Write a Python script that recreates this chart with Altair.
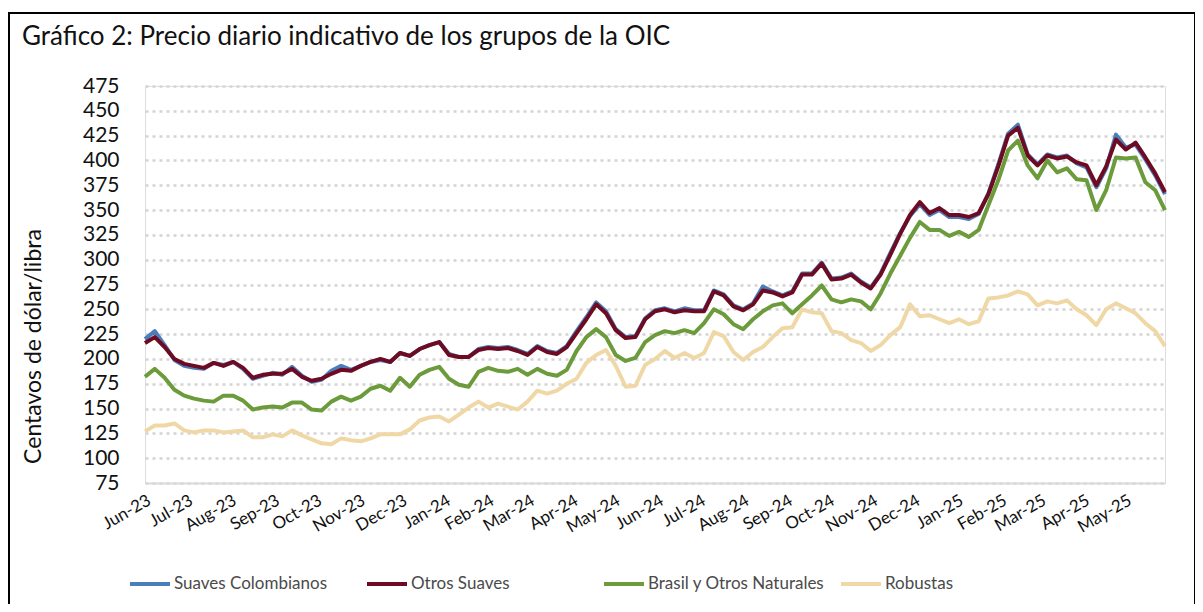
import altair as alt
import pandas as pd

# Fechas semanales (eje x) y valores (centavos de dólar/libra)
fechas = pd.date_range("2023-06-01", periods=105, freq="7D")

suaves_colombianos = [
    220, 228, 214, 199, 193, 191, 190, 196, 194, 197,
    190, 180, 183, 186, 184, 192, 183, 177, 179, 188,
    193, 189, 193, 197, 199, 197, 206, 203, 210, 214,
    217, 205, 202, 202, 210, 212, 211, 212, 209, 205,
    213, 208, 206, 213, 228, 242, 257, 248, 230, 222,
    223, 241, 249, 251, 248, 251, 249, 249, 269, 265,
    254, 250, 256, 273, 268, 264, 268, 286, 286, 297,
    281, 282, 286, 278, 272, 286, 307, 327, 344, 356,
    345, 350, 343, 343, 341, 346, 367, 396, 427, 436,
    406, 396, 406, 403, 405, 397, 393, 373, 392, 426,
    413, 416, 401, 385, 366,
]
otros_suaves = [
    216, 222, 212, 200, 195, 193, 191, 196, 193, 197,
    191, 181, 184, 185, 185, 190, 182, 178, 180, 185,
    189, 188, 193, 197, 200, 197, 206, 203, 210, 214,
    217, 204, 202, 202, 209, 211, 210, 211, 208, 204,
    212, 207, 205, 212, 226, 240, 255, 246, 229, 221,
    222, 240, 248, 250, 247, 249, 248, 248, 268, 264,
    253, 249, 255, 269, 267, 263, 267, 285, 285, 296,
    280, 281, 285, 277, 271, 285, 305, 326, 345, 358,
    347, 352, 345, 345, 343, 347, 366, 394, 425, 433,
    405, 395, 405, 402, 404, 398, 395, 375, 394, 421,
    411, 418, 403, 387, 368,
]
brasil_naturales = [
    182, 190, 181, 169, 163, 160, 158, 157, 163, 163,
    158, 149, 151, 152, 151, 156, 156, 149, 148, 157,
    162, 158, 162, 170, 173, 168, 181, 172, 184, 189,
    192, 180, 174, 172, 187, 191, 188, 187, 190, 184,
    190, 185, 183, 189, 208, 222, 230, 222, 204, 198,
    201, 217, 224, 228, 226, 229, 226, 236, 250, 245,
    235, 230, 240, 248, 254, 256, 246, 255, 264, 274,
    260, 257, 260, 258, 250, 266, 286, 304, 322, 338,
    330, 330, 324, 328, 323, 330, 355, 380, 410, 420,
    395, 382, 400, 388, 392, 381, 380, 350, 370, 403,
    402, 403, 378, 370, 350,
]
robustas = [
    127, 133, 133, 135, 128, 126, 128, 128, 126, 127,
    128, 121, 121, 124, 122, 128, 123, 119, 115, 114,
    120, 118, 117, 120, 124, 124, 124, 129, 138, 141,
    142, 137, 144, 151, 157, 151, 155, 152, 149, 157,
    168, 165, 168, 175, 180, 196, 204, 209, 193, 172,
    173, 194, 200, 208, 201, 206, 201, 206, 227, 223,
    207, 199, 207, 212, 222, 231, 232, 250, 247, 246,
    228, 226, 219, 216, 208, 214, 224, 232, 255, 243,
    244, 240, 236, 240, 235, 238, 261, 262, 264, 268,
    265, 254, 258, 256, 259, 250, 244, 234, 250, 256,
    251, 246, 236, 228, 213,
]

series = ["Suaves Colombianos", "Otros Suaves", "Brasil y Otros Naturales", "Robustas"]
colores = ["#4a7ebb", "#6e0b22", "#6b9b3a", "#efd8a6"]
titulo = "Gráfico 2: Precio diario indicativo de los grupos de la OIC"

# Marcas del eje x (inicio de cada mes)
meses_eje = [(2023, m) for m in range(6, 13)] + [(2024, m) for m in range(1, 13)] + [(2025, m) for m in range(1, 6)]
valores_eje_y = list(range(75, 476, 25))

rows = []
for nombre, valores in zip(series, [suaves_colombianos, otros_suaves, brasil_naturales, robustas]):
    for f, v in zip(fechas, valores):
        rows.append({"fecha": f, "serie": nombre, "valor": v})
df = pd.DataFrame(rows)

FONT = "Lato"

x_enc = alt.X(
    "fecha:T",
    title=None,
    scale=alt.Scale(
        domain=[alt.DateTime(year=2023, month=6, date=1), alt.DateTime(year=2025, month=5, date=29)],
        nice=False,
    ),
    axis=alt.Axis(
        values=[alt.DateTime(year=y, month=m, date=1) for y, m in meses_eje],
        format="%b-%y",
        labelAngle=-30,
        labelAlign="right",
        labelBaseline="top",
        labelFont=FONT,
        labelFontSize=17,
        labelColor="#111111",
        labelPadding=9,
        labelOverlap=False,
        labelFlush=False,
        ticks=False,
        grid=False,
        domainColor="#d9d9d9",
        domainWidth=2,
    ),
)
y_enc = alt.Y(
    "valor:Q",
    title="Centavos de dólar/libra",
    scale=alt.Scale(domain=[75, 475], nice=False, zero=False),
    axis=alt.Axis(
        values=valores_eje_y,
        grid=True,
        gridDash=[3, 4],
        gridColor="#d4d4d4",
        gridWidth=2.5,
        domain=False,
        ticks=False,
        labelFont=FONT,
        labelFontSize=21,
        labelColor="#111111",
        labelPadding=26,
        titleFont=FONT,
        titleFontSize=23,
        titleFontWeight="normal",
        titleColor="#111111",
        titleAngle=-90,
        titleX=-112,
        titleY=260,
        titleAlign="center",
        titleBaseline="middle",
    ),
)
color_enc = alt.Color(
    "serie:N",
    scale=alt.Scale(domain=series, range=colores),
    legend=alt.Legend(
        title=None,
        orient="none",
        legendX=-17,
        legendY=476,
        direction="horizontal",
        columns=4,
        gridAlign="all",
        columnPadding=8,
        symbolType="stroke",
        symbolSize=1600,
        symbolStrokeWidth=4,
        labelFont=FONT,
        labelFontSize=17,
        labelColor="#4a4a4a",
        labelOffset=2,
        labelLimit=300,
    ),
)

base = alt.Chart(df).mark_line(strokeWidth=4, strokeJoin="round").encode(
    x=x_enc, y=y_enc, color=color_enc
)
layers = [base.transform_filter(alt.datum.serie == s) for s in series]

marco = alt.Chart(pd.DataFrame({"k": [0]})).mark_rect(
    filled=False, stroke="#000000", strokeWidth=2
).encode(
    x=alt.value(-136), x2=alt.value(1050), y=alt.value(-73), y2=alt.value(560)
)

titulo_txt = alt.Chart(pd.DataFrame({"t": [titulo]})).mark_text(
    align="left", baseline="alphabetic", font=FONT, fontSize=26, color="#111111"
).encode(text="t:N", x=alt.value(-123), y=alt.value(-41))

chart = alt.layer(*layers, marco, titulo_txt).properties(
    width=1020,
    height=397,
    padding={"left": 137, "top": 78, "right": 30, "bottom": 121},
    autosize=alt.AutoSizeParams(type="none"),
).configure_view(strokeWidth=0).configure(background="white")

chart.save("out.html", embed_options={"renderer": "svg", "actions": False})
